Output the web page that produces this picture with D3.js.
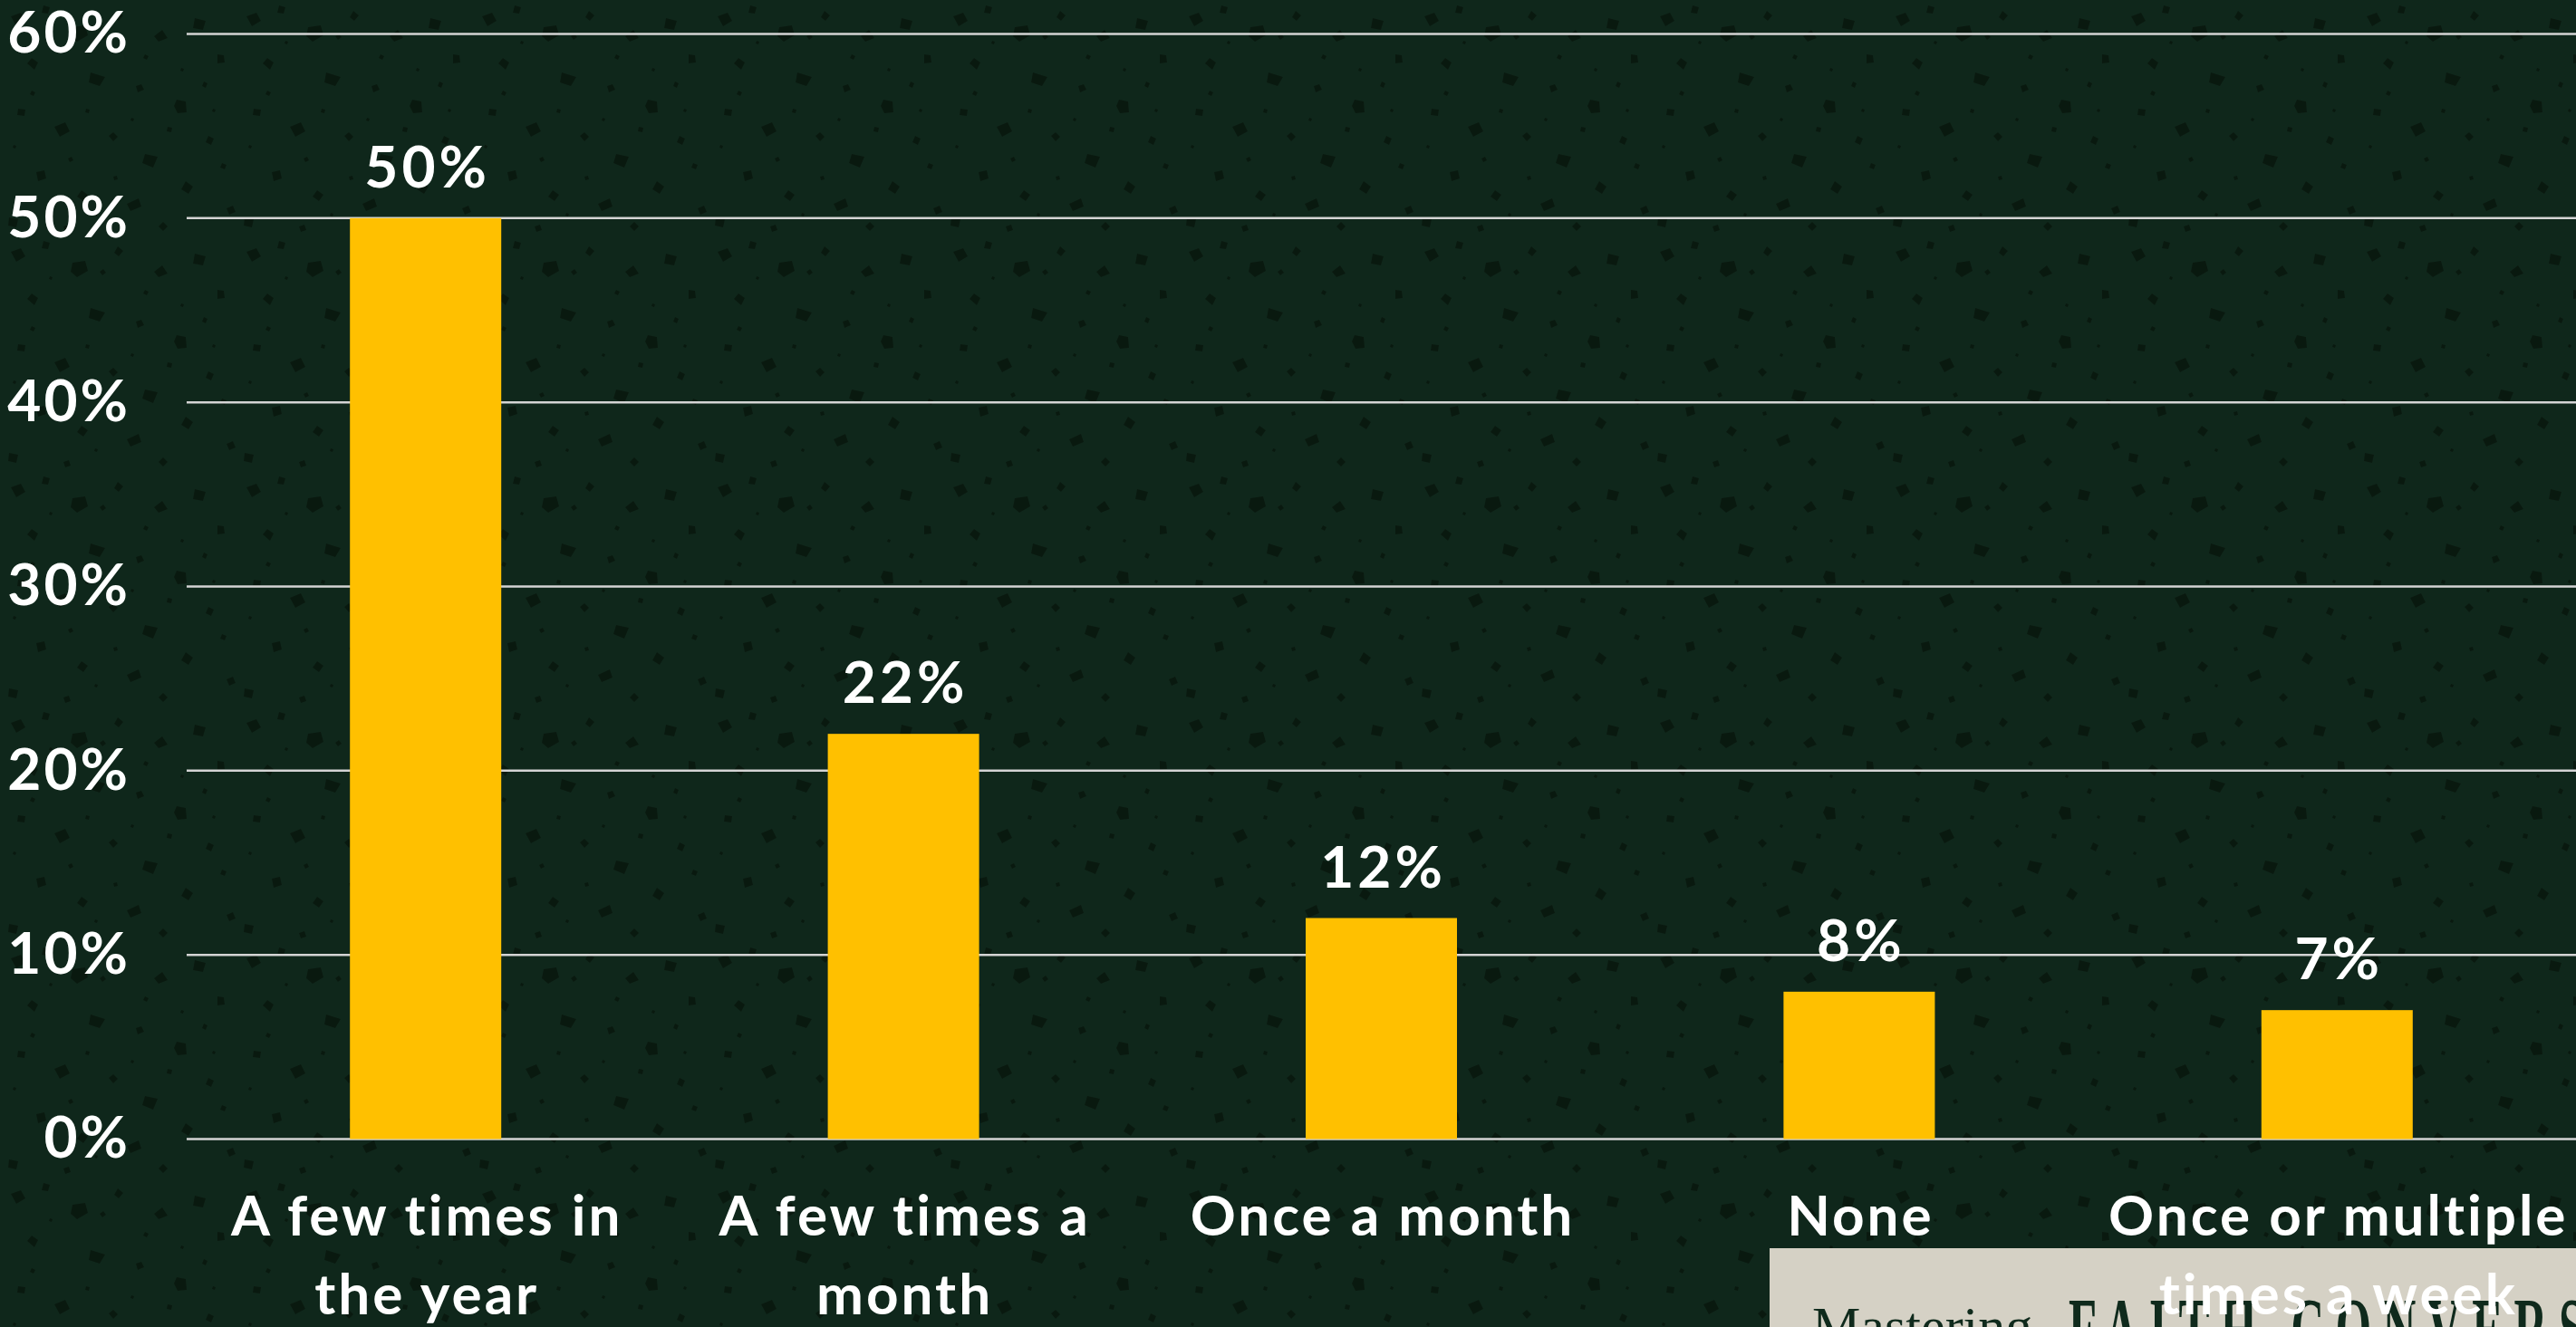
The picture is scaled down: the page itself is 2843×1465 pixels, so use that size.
<!DOCTYPE html>
<html>
<head>
<meta charset="utf-8">
<script src="https://cdn.jsdelivr.net/npm/d3@7"></script>
<style>
  html, body { margin: 0; padding: 0; background: #0f271b; overflow: hidden; }
  svg { display: block; }
</style>
</head>
<body>
<script>
// ---- data ----
const categories = [
  "A few times in\nthe year",
  "A few times a\nmonth",
  "Once a month",
  "None",
  "Once or multiple\ntimes a week"
];
const values = [0.50, 0.22, 0.12, 0.08, 0.07];
const yTicks = [0, 0.1, 0.2, 0.3, 0.4, 0.5, 0.6];
const bannerWords = ["Mastering", "FAITH CONVERSATIONS"];

// ---- layout ----
const W = 2843, H = 1465;
const plotLeft = 206, plotRight = 2843, plotTop = 37.5, plotBottom = 1257.5;
const barWidth = 167;
const font = "Lato, 'Open Sans', sans-serif";

const svg = d3.select("body").append("svg")
  .attr("width", W).attr("height", H);

// background + terrazzo speckle texture
const defs = svg.append("defs");
const pat = defs.append("pattern")
  .attr("id", "speck").attr("patternUnits", "userSpaceOnUse")
  .attr("width", 260).attr("height", 260);
pat.append("rect").attr("width", 260).attr("height", 260).attr("fill", "#0f271b");
const speckles = [
  "M12,18l11,-4l5,9l-10,6z", "M48,6l7,2l-2,7l-7,-1z", "M80,30l14,-2l3,11l-12,7l-7,-6z",
  "M130,12l6,5l-5,6l-5,-4z", "M170,40l9,-7l6,9l-10,4z", "M215,20l12,3l-3,10l-11,-2z",
  "M240,60l7,1l1,8l-8,1z", "M30,70l5,-6l7,5l-4,8z", "M100,80l16,5l-6,10l-12,-4z",
  "M150,95l6,-2l3,6l-7,3z", "M195,110l10,2l1,12l-10,1l-4,-8z", "M20,120l8,1l-1,7l-8,-1z",
  "M60,140l12,-5l5,10l-11,6z", "M120,150l5,-4l5,5l-5,5z", "M160,170l14,3l-5,12l-12,-5z",
  "M230,150l6,3l-3,7l-6,-3z", "M40,190l9,-2l2,9l-9,3z", "M90,210l7,5l-5,7l-7,-5z",
  "M140,225l13,-6l3,9l-12,5z", "M205,200l8,6l-5,8l-8,-5z", "M250,230l7,-3l3,7l-7,3z",
  "M10,240l10,2l-2,9l-9,-2z", "M70,250l6,-2l2,6l-6,2z", "M180,245l5,5l-5,5l-5,-5z",
  "M110,40l4,-3l3,4l-4,3z", "M225,90l4,2l-2,5l-4,-2z", "M75,175l4,-2l2,4l-4,2z",
  "M185,140l5,1l-1,5l-5,-1z", "M35,100l4,2l-2,4l-4,-2z", "M125,195l4,-1l1,4l-4,1z",
  "M160,60l4,2l-2,4l-4,-2z", "M245,180l5,2l-2,5l-5,-2z", "M95,120l4,1l-1,4l-4,-1z",
  "M55,45l3,1l-1,3l-3,-1z", "M200,75l3,1l-1,3l-3,-1z", "M15,160l3,1l-1,3l-3,-1z",
  "M105,235l3,1l-1,3l-3,-1z", "M235,120l3,1l-1,3l-3,-1z", "M145,130l3,1l-1,3l-3,-1z"
];
pat.selectAll("path").data(speckles).join("path")
  .attr("d", d => d).attr("fill", "#09190f");
svg.append("rect").attr("width", W).attr("height", H).attr("fill", "url(#speck)");

// ---- scales ----
const x = d3.scaleBand().domain(categories).range([plotLeft, plotRight]).padding(0);
const y = d3.scaleLinear().domain([0, 0.6]).range([plotBottom, plotTop]);

// gridlines
svg.append("g").selectAll("line").data(yTicks).join("line")
  .attr("x1", plotLeft).attr("x2", plotRight)
  .attr("y1", d => y(d)).attr("y2", d => y(d))
  .attr("stroke", "#d4d4d4").attr("stroke-width", 2.5);

// y axis labels
const yAxis = d3.axisLeft(y).tickValues(yTicks).tickFormat(d3.format(".0%")).tickSize(0).tickPadding(0);
const gy = svg.append("g").attr("transform", "translate(144,0)").call(yAxis);
gy.select(".domain").remove();
gy.selectAll("text")
  .attr("fill", "#ffffff").attr("font-family", font).attr("font-weight", 700)
  .attr("font-size", 64).attr("letter-spacing", 3).attr("dy", "0.32em").attr("text-anchor", "end");

// bars
svg.append("g").selectAll("rect").data(values).join("rect")
  .attr("x", (d, i) => x(categories[i]) + x.bandwidth() / 2 - barWidth / 2)
  .attr("width", barWidth)
  .attr("y", d => y(d))
  .attr("height", d => y(0) - y(d))
  .attr("fill", "#ffc000");

// value labels
svg.append("g").selectAll("text").data(values).join("text")
  .attr("x", (d, i) => x(categories[i]) + x.bandwidth() / 2 + 2)
  .attr("y", d => y(d) - 34)
  .attr("text-anchor", "middle")
  .attr("fill", "#ffffff").attr("font-family", font).attr("font-weight", 700)
  .attr("font-size", 64).attr("letter-spacing", 4)
  .text(d => d3.format(".0%")(d));

// banner box at bottom right (drawn beneath category labels)
const banner = svg.append("g");
banner.append("rect").attr("x", 1953).attr("y", 1378).attr("width", W - 1953).attr("height", H - 1378)
  .attr("fill", "#d5d1c5");
banner.append("text").attr("x", 2000).attr("y", 1484)
  .attr("font-family", "'Liberation Serif', 'DejaVu Serif', serif").attr("font-size", 60)
  .attr("fill", "#0f2a1c").text(bannerWords[0]);
banner.append("text").attr("transform", "translate(2283,1500) scale(0.52,1)")
  .attr("font-family", "'Liberation Serif', 'DejaVu Serif', serif").attr("font-size", 98)
  .attr("font-weight", 700).attr("letter-spacing", 24)
  .attr("fill", "#0f2a1c").text(bannerWords[1]);

// category labels
const xAxis = d3.axisBottom(x).tickSize(0).tickFormat("");
svg.append("g").attr("transform", `translate(0,${plotBottom})`).call(xAxis).select(".domain").remove();
const cat = svg.append("g").selectAll("text").data(categories).join("text")
  .attr("x", d => x(d) + x.bandwidth() / 2 + 1.5)
  .attr("y", 1364)
  .attr("text-anchor", "middle")
  .attr("fill", "#ffffff").attr("font-family", font).attr("font-weight", 700)
  .attr("font-size", 62).attr("letter-spacing", 3);
cat.selectAll("tspan").data(d => d.split("\n")).join("tspan")
  .attr("x", function () { return d3.select(this.parentNode).attr("x"); })
  .attr("dy", (d, i) => i === 0 ? 0 : 87)
  .text(d => d);
</script>
</body>
</html>
